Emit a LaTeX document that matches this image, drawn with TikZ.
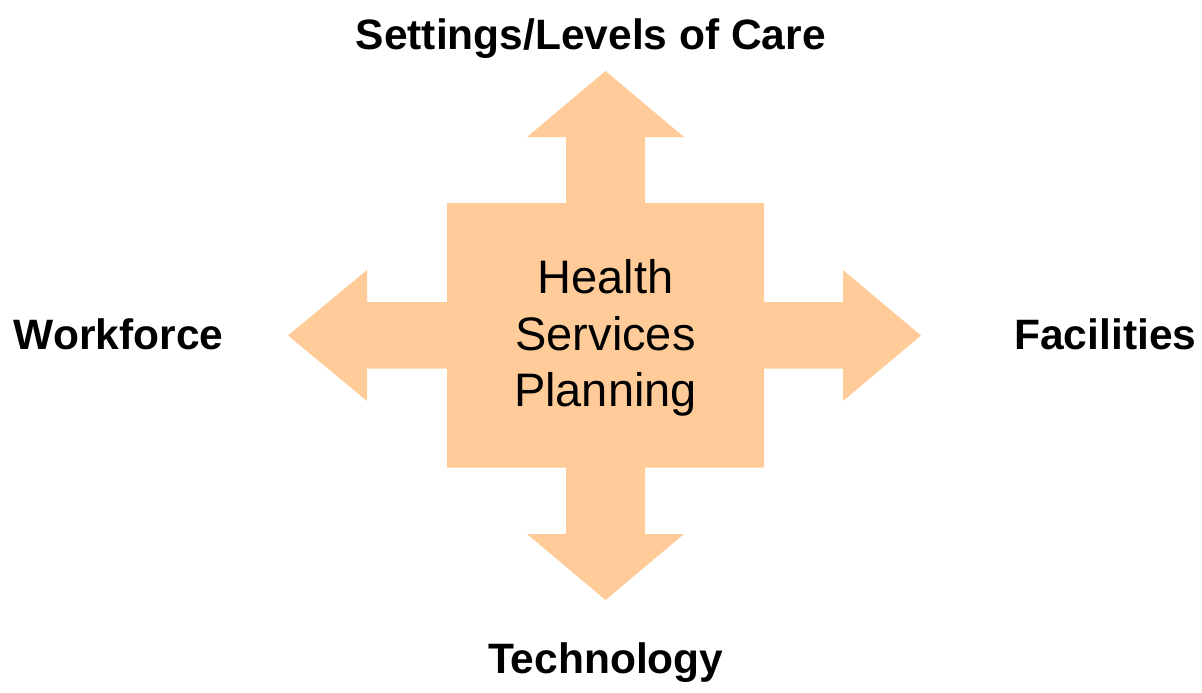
\documentclass[tikz,border=0pt]{standalone}
\usepackage{fontspec}
\setmainfont{Liberation Sans}
\definecolor{arrowfill}{HTML}{FFCC99}
\begin{document}
\begin{tikzpicture}[x=1pt,y=-1pt,
  label/.style={font=\fontsize{42.5}{50}\selectfont\bfseries, inner sep=0pt, anchor=base},
  center/.style={font=\fontsize{47}{56.7}\selectfont, inner sep=0pt, align=center, anchor=base}]
\useasboundingbox (0,0) rectangle (1202,693);
\fill[arrowfill] (605.5,71) -- (684,137) -- (645,137) -- (645,203) -- (764,203) -- (764,302)
  -- (843,302) -- (843,270) -- (921,335.5) -- (843,401) -- (843,368.5) -- (764,368.5)
  -- (764,467.5) -- (645,467.5) -- (645,534) -- (684,534) -- (605.5,600) -- (527,534)
  -- (566,534) -- (566,467.5) -- (447,467.5) -- (447,368.5) -- (367,368.5) -- (367,401)
  -- (288,335.5) -- (367,270) -- (367,302) -- (447,302) -- (447,203) -- (566,203)
  -- (566,137) -- (527,137) -- cycle;
\node[center] (hsp) at (605.5,406.7) {Health\\Services\\Planning};
\node[label] (top) at (590.8,49) {Settings/Levels of Care};
\node[label] (left) at (118.7,349) {Workforce};
\node[label] (right) at (1105.3,349) {Facilities};
\node[label] (bottom) at (605.7,673.3) {Technology};
\end{tikzpicture}
\end{document}
